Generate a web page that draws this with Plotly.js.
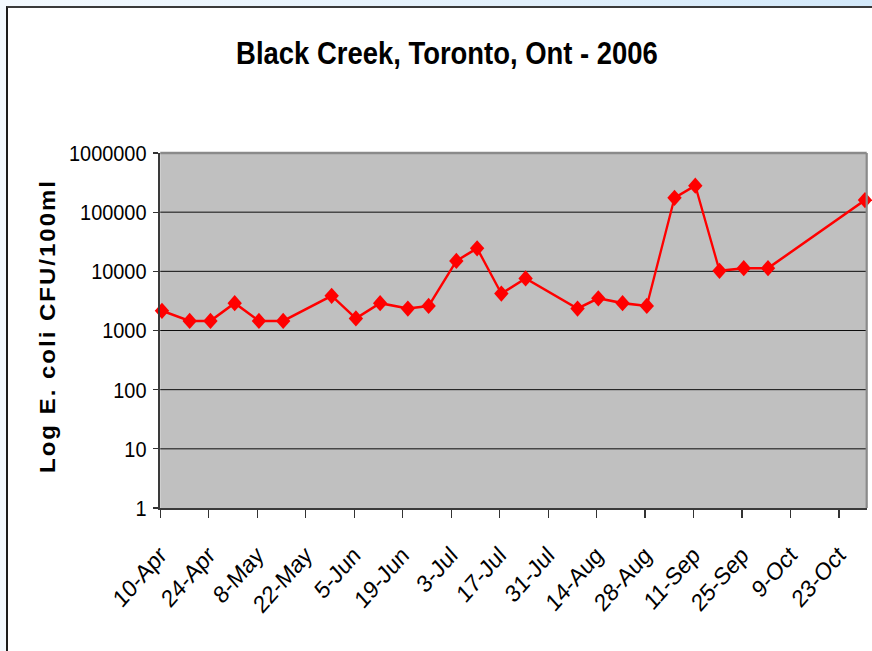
<!DOCTYPE html>
<html>
<head>
<meta charset="utf-8">
<script src="https://cdn.plot.ly/plotly-3.0.1.min.js"></script>
<style>
  html, body { margin: 0; padding: 0; width: 872px; height: 651px; overflow: hidden;
    background: linear-gradient(to right, #f3f9fe 0%, #e2f0fb 60%, #d3e9fa 100%); }
  #frame { position: absolute; left: 6px; top: 6px; width: 866px; height: 645px;
    background: #ffffff; border-left: 2px solid #1c1c1c; border-top: 2px solid #3a3a3a; }
  #chart { position: absolute; left: 0; top: 0; width: 985px; height: 651px;
    transform: scaleX(0.8853); transform-origin: 0 0; }
</style>
</head>
<body>
<div id="frame"></div>
<div id="chart"></div>
<script>
// Sampling dates (2006) and E. coli counts (CFU/100 ml)
const sampleDates = ['2006-04-10','2006-04-18','2006-04-24','2006-05-01','2006-05-08','2006-05-15',
  '2006-05-29','2006-06-05','2006-06-12','2006-06-20','2006-06-26','2006-07-04','2006-07-10',
  '2006-07-17','2006-07-24','2006-08-08','2006-08-14','2006-08-21','2006-08-28','2006-09-05',
  '2006-09-11','2006-09-18','2006-09-25','2006-10-02','2006-10-30'];
const ecoli = [2150, 1450, 1450, 2900, 1450, 1450,
  3850, 1600, 2900, 2350, 2600, 15000, 24500,
  4200, 7600, 2350, 3500, 2900, 2600, 175000,
  280000, 10200, 11300, 11300, 160000];

const xTickDates = ['2006-04-10','2006-04-24','2006-05-08','2006-05-22','2006-06-05','2006-06-19',
  '2006-07-03','2006-07-17','2006-07-31','2006-08-14','2006-08-28','2006-09-11','2006-09-25',
  '2006-10-09','2006-10-23'];
const xTickLabels = ['10-Apr','24-Apr','8-May','22-May','5-Jun','19-Jun','3-Jul','17-Jul',
  '31-Jul','14-Aug','28-Aug','11-Sep','25-Sep','9-Oct','23-Oct'];
const yTickVals = [1, 10, 100, 1000, 10000, 100000, 1000000];
const yTickLabels = ['1','10','100','1000','10000','100000','1000000'];

const titleText = 'Black Creek, Toronto, Ont - 2006';
const yTitleText = 'Log E. coli CFU/100ml';

// points sit in the middle of their day slot (date axis with day base unit)
const xPoints = sampleDates.map(d => d + ' 12:00');

const trace = {
  type: 'scatter', mode: 'lines+markers',
  x: xPoints, y: ecoli,
  line: { color: '#ff0000', width: 2.6 },
  marker: { symbol: 'diamond', size: 12.5, color: '#ff0000' },
  cliponaxis: false,
  hoverinfo: 'x+y'
};

const font = 'Arial, "Liberation Sans", sans-serif';

const layout = {
  width: 985, height: 651,
  margin: { l: 181, r: 6, t: 153, b: 143 },
  paper_bgcolor: 'rgba(0,0,0,0)',
  plot_bgcolor: '#c0c0c0',
  showlegend: false,
  title: { text: '<b>' + titleText + '</b>', font: { family: font, size: 31, color: '#000' },
    x: 0.5126, xref: 'container', xanchor: 'center', y: 1 - 53/651, yref: 'container', yanchor: 'middle' },
  xaxis: {
    type: 'date', range: ['2006-04-10', '2006-10-31'],
    tickmode: 'array', tickvals: xTickDates, ticktext: xTickLabels,
    tickangle: -45, tickfont: { family: font, size: 24.5, color: '#000' },
    ticks: 'outside', ticklen: 8, tickwidth: 1.3, tickcolor: '#333',
    ticklabelstandoff: 13,
    showgrid: false, zeroline: false,
    showline: true, linecolor: '#3a3a3a', linewidth: 2
  },
  yaxis: {
    type: 'log', range: [0, 6],
    tickmode: 'array', tickvals: yTickVals, ticktext: yTickLabels,
    tickfont: { family: font, size: 22.5, color: '#000' },
    ticks: 'outside', ticklen: 6, tickwidth: 1.3, tickcolor: '#333',
    ticklabelstandoff: 3,
    showgrid: true, gridcolor: '#000000', gridwidth: 1,
    zeroline: false, showline: true, linecolor: '#3a3a3a', linewidth: 2
  },
  shapes: [
    { type: 'line', xref: 'paper', yref: 'paper', x0: 0, x1: 1, y0: 1, y1: 1,
      line: { color: '#8a8a8a', width: 2.5 }, layer: 'above' },
    { type: 'line', xref: 'paper', yref: 'paper', x0: 1, x1: 1, y0: 0, y1: 1,
      line: { color: '#8a8a8a', width: 2.5 }, layer: 'above' }
  ],
  annotations: [
    { text: '<b>' + yTitleText + '</b>', textangle: -90, showarrow: false,
      xref: 'paper', yref: 'paper', x: -0.159, y: 0.513, xanchor: 'center', yanchor: 'middle',
      font: { family: font, size: 24, color: '#000' } }
  ]
};

Plotly.newPlot('chart', [trace], layout, { displayModeBar: false, staticPlot: true }).then(() => {
  document.querySelectorAll('#chart .annotation-text').forEach(t => {
    t.style.letterSpacing = '2px';
  });
});
</script>
</body>
</html>
